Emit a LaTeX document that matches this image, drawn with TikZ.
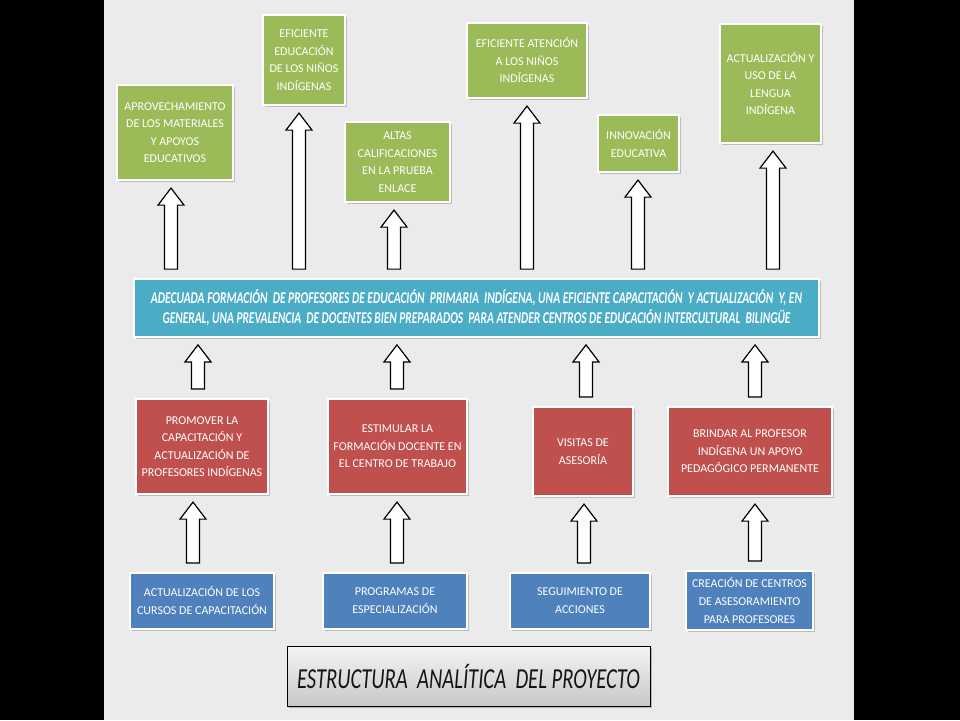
\documentclass[tikz,border=0pt]{standalone}
\usepackage{fontspec}
\setmainfont{Carlito}
\usepackage{graphicx}
\usetikzlibrary{shadows,calc}
\definecolor{grn}{HTML}{9BBB59}
\definecolor{rd}{HTML}{C0504D}
\definecolor{bl}{HTML}{4F81BD}
\definecolor{cy}{HTML}{4BACC6}
\definecolor{panel}{HTML}{EBEBEB}
\definecolor{ink}{HTML}{141414}
\tikzset{
  card/.style={draw=white, line width=2.2pt, text=white, align=center, inner sep=0pt,
    font=\fontsize{12}{17.5}\selectfont,
    drop shadow={shadow xshift=1.5pt, shadow yshift=-2pt, opacity=0.35, fill=black!60}},
  greenbox/.style={card, fill=grn},
  redbox/.style={card, fill=rd},
  bluebox/.style={card, fill=bl, font=\fontsize{12}{18}\selectfont},
  barbox/.style={card, fill=cy, line width=1.8pt, font=\fontsize{16.5}{20}\selectfont\bfseries\itshape},
  titlebox/.style={draw=black, line width=0.9pt, top color=white!96!black, bottom color=black!22,
    text=ink, inner sep=0pt, font=\fontsize{29}{30}\selectfont\itshape,
    drop shadow={shadow xshift=2pt, shadow yshift=-2pt, opacity=0.4, fill=black!60}},
  blockarr/.style={draw=black, fill=white, line width=1.2pt, line join=miter},
}
% name, style, x1, y1, x2, y2, text
\newcommand\rectnode[7]{%
  \node[#2, minimum width={(#5-#3)*1pt}, minimum height={(#6-#4)*1pt}]
    (#1) at ({(#3+#5)/2},{(#4+#6)/2}) {#7};}
% hollow block arrow: bottom node, top node, x
\newcommand\uparr[3]{%
  \path[blockarr] let \p1=(#1.north), \p2=(#2.south) in
    ({#3pt-6.5pt},{\y1+9pt}) -- ({#3pt-6.5pt},{\y2-24pt}) -- ({#3pt-13pt},{\y2-24pt})
    -- ({#3pt},{\y2-7pt}) -- ({#3pt+13pt},{\y2-24pt}) -- ({#3pt+6.5pt},{\y2-24pt})
    -- ({#3pt+6.5pt},{\y1+9pt}) -- cycle;}
\begin{document}
\begin{tikzpicture}[x=1pt,y=-1pt]
\useasboundingbox (0,0) rectangle (960,720);
\fill[black] (0,0) rectangle (960,720);
\fill[panel] (104,0) rectangle (854,720);

% top row (green)
\rectnode{g1}{greenbox}{117}{85}{233}{180}{APROVECHAMIENTO\\DE LOS MATERIALES\\Y APOYOS\\EDUCATIVOS}
\rectnode{g2}{greenbox}{263}{15}{345}{105}{EFICIENTE\\EDUCACIÓN\\DE LOS NIÑOS\\INDÍGENAS}
\rectnode{g3}{greenbox}{345}{122}{450}{202}{ALTAS\\CALIFICACIONES\\EN LA PRUEBA\\ENLACE}
\rectnode{g4}{greenbox}{467}{23}{587}{98}{EFICIENTE ATENCIÓN\\A LOS NIÑOS\\INDÍGENAS}
\rectnode{g5}{greenbox}{598}{115}{679}{172}{INNOVACIÓN\\EDUCATIVA}
\rectnode{g6}{greenbox}{720}{24}{821}{143}{ACTUALIZACIÓN Y\\USO DE LA\\LENGUA\\INDÍGENA}

% central bar
\rectnode{bar}{barbox}{134}{279}{819}{337}{%
  \resizebox{651pt}{\height}{ADECUADA FORMACIÓN~ DE PROFESORES DE EDUCACIÓN~ PRIMARIA~ INDÍGENA, UNA EFICIENTE CAPACITACIÓN~ Y ACTUALIZACIÓN~ Y, EN}\\
  \resizebox{628pt}{\height}{GENERAL, UNA PREVALENCIA~ DE DOCENTES BIEN PREPARADOS~ PARA ATENDER CENTROS DE EDUCACIÓN INTERCULTURAL~ BILINGÜE}}

% middle row (red)
\rectnode{r1}{redbox}{136}{399}{268}{494}{PROMOVER LA\\CAPACITACIÓN Y\\ACTUALIZACIÓN DE\\PROFESORES INDÍGENAS}
\rectnode{r2}{redbox}{328}{399}{467}{494}{ESTIMULAR LA\\FORMACIÓN DOCENTE EN\\EL CENTRO DE TRABAJO}
\rectnode{r3}{redbox}{533}{407}{633}{496}{VISITAS DE\\ASESORÍA}
\rectnode{r4}{redbox}{668}{407}{832}{496}{BRINDAR AL PROFESOR\\INDÍGENA UN APOYO\\PEDAGÓGICO PERMANENTE}

% bottom row (blue)
\rectnode{b1}{bluebox}{130}{573}{274}{629}{ACTUALIZACIÓN DE LOS\\CURSOS DE CAPACITACIÓN}
\rectnode{b2}{bluebox}{323}{573}{467}{629}{PROGRAMAS DE\\ESPECIALIZACIÓN}
\rectnode{b3}{bluebox}{510}{573}{650}{629}{SEGUIMIENTO DE\\ACCIONES}
\rectnode{b4}{bluebox}{686}{571}{813}{630}{CREACIÓN DE CENTROS\\DE ASESORAMIENTO\\PARA PROFESORES}

% title
\rectnode{title}{titlebox}{287}{646}{650}{706}{\resizebox{343pt}{\height}{ESTRUCTURA~ ANALÍTICA~ DEL PROYECTO}}

% arrows bar -> green
\uparr{bar}{g1}{171}
\uparr{bar}{g2}{299}
\uparr{bar}{g3}{394}
\uparr{bar}{g4}{527}
\uparr{bar}{g5}{638}
\uparr{bar}{g6}{773}
% arrows red -> bar
\uparr{r1}{bar}{198}
\uparr{r2}{bar}{397}
\uparr{r3}{bar}{586}
\uparr{r4}{bar}{755}
% arrows blue -> red
\uparr{b1}{r1}{193}
\uparr{b2}{r2}{397}
\uparr{b3}{r3}{584}
\uparr{b4}{r4}{755}
\end{tikzpicture}
\end{document}
